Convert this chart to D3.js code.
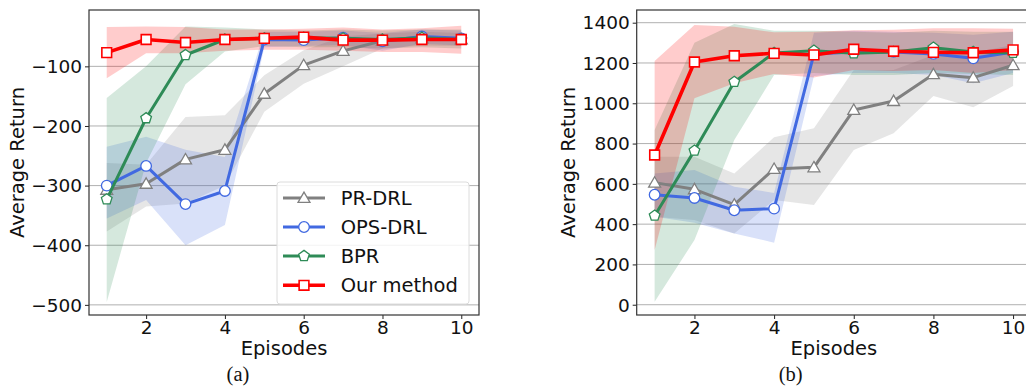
<!DOCTYPE html>
<html>
<head>
<meta charset="utf-8">
<script src="https://cdn.jsdelivr.net/npm/d3@7"></script>
<style>
  html, body { margin: 0; padding: 0; background: #fff; }
  svg { display: block; font-family: "DejaVu Sans", sans-serif; }
</style>
</head>
<body>
<svg id="chart" width="1026" height="388"></svg>
<script>
// ---------- data ----------
const episodes = [1, 2, 3, 4, 5, 6, 7, 8, 9, 10];
const seriesNames = ["PR-DRL", "OPS-DRL", "BPR", "Our method"];
const xTicks = [2, 4, 6, 8, 10];

// panel (a)
const aTicks = [-100, -200, -300, -400, -500];
const aPR    = [-307, -297, -256, -240, -146, -98, -74, -57, -53, -55];
const aPRHi  = [-262, -265, -185, -182, -115, -73, -50, -45, -42, -44];
const aPRLo  = [-377, -335, -330, -300, -176, -129, -100, -70, -65, -66];
const aOPS   = [-300, -267, -331, -309, -55, -56, -52, -58, -50, -53];
const aOPSHi = [-235, -218, -240, -252, -42, -42, -40, -44, -38, -40];
const aOPSLo = [-355, -324, -400, -366, -68, -66, -64, -74, -62, -65];
const aBPR   = [-323, -187, -81, -55, -53, -52, -53, -55, -52, -55];
const aBPRHi = [-153, -100, -33, -35, -38, -40, -38, -40, -38, -38];
const aBPRLo = [-495, -262, -130, -75, -66, -68, -68, -70, -68, -70];
const aOur   = [-77, -55, -60, -55, -53, -51, -56, -56, -55, -55];
const aOurHi = [-34, -33, -34, -38, -38, -37, -35, -38, -36, -32];
const aOurLo = [-120, -78, -78, -74, -72, -72, -74, -76, -76, -79];

// panel (b)
const bTicks = [0, 200, 400, 600, 800, 1000, 1200, 1400];
const bPR    = [606, 573, 497, 674, 682, 967, 1011, 1144, 1127, 1189];
const bPRHi  = [735, 735, 652, 831, 876, 1165, 1165, 1240, 1250, 1290];
const bPRLo  = [437, 420, 353, 520, 495, 768, 851, 1036, 980, 1086];
const bOPS   = [546, 530, 469, 477, 1245, 1255, 1255, 1245, 1223, 1255];
const bOPSHi = [652, 669, 586, 555, 1350, 1360, 1355, 1350, 1340, 1355];
const bOPSLo = [437, 407, 354, 308, 1135, 1150, 1150, 1140, 1100, 1150];
const bBPR   = [442, 765, 1106, 1250, 1261, 1248, 1255, 1276, 1255, 1250];
const bBPRHi = [867, 1300, 1394, 1360, 1360, 1355, 1350, 1360, 1355, 1355];
const bBPRLo = [15, 321, 818, 1140, 1150, 1140, 1140, 1150, 1145, 1140];
const bOur   = [743, 1205, 1236, 1248, 1240, 1268, 1258, 1253, 1251, 1265];
const bOurHi = [1210, 1389, 1380, 1352, 1355, 1362, 1365, 1372, 1372, 1370];
const bOurLo = [272, 1025, 1100, 1145, 1128, 1165, 1160, 1165, 1150, 1165];

// ---------- styles ----------
const colors = ["#808080", "#4169e1", "#2e8b57", "#ff0000"];
const lineWidths = [3, 3, 3, 3.6];

const svg = d3.select("#chart");

function pentagonPath(r) {
  const pts = d3.range(5).map(i => {
    const a = -Math.PI / 2 + i * 2 * Math.PI / 5;
    return [r * Math.cos(a), r * Math.sin(a)];
  });
  return "M" + pts.map(p => p.join(",")).join("L") + "Z";
}

function drawMarker(g, k, cx, cy) {
  let path;
  if (k === 0) path = d3.symbol(d3.symbolTriangle, 62)();
  else if (k === 1) path = d3.symbol(d3.symbolCircle, 88)();
  else if (k === 2) path = pentagonPath(5.6);
  else path = d3.symbol(d3.symbolSquare, 95)();
  g.append("path")
    .attr("d", path)
    .attr("transform", `translate(${cx},${cy + (k === 0 ? 1 : 0)})`)
    .attr("fill", "#fff")
    .attr("stroke", colors[k])
    .attr("stroke-width", k === 3 ? 1.6 : 1.3);
}

function drawPanel(opt) {
  const { left, right, top, bottom, yDomain, yTicks, series, labelX, caption, captionX, tickFmt } = opt;
  const x = d3.scaleLinear().domain([0.55, 10.45]).range([left, right]);
  const y = d3.scaleLinear().domain(yDomain).range([bottom, top]);
  const clipId = "clip" + caption.replace(/\W/g, "");
  svg.append("clipPath").attr("id", clipId)
    .append("rect").attr("x", left).attr("y", top).attr("width", right - left).attr("height", bottom - top);

  const g = svg.append("g");
  // grid
  g.append("g").selectAll("line").data(yTicks).join("line")
    .attr("x1", left).attr("x2", right)
    .attr("y1", d => y(d)).attr("y2", d => y(d))
    .attr("stroke", "#b0b0b0").attr("stroke-width", 1);

  const plot = g.append("g").attr("clip-path", `url(#${clipId})`);
  // bands
  series.forEach((s, k) => {
    const area = d3.area().x((d, i) => x(episodes[i])).y0((d, i) => y(s.lo[i])).y1((d, i) => y(s.hi[i]));
    plot.append("path").datum(s.mean).attr("d", area)
      .attr("fill", colors[k]).attr("fill-opacity", 0.2).attr("stroke", "none");
  });
  // lines + markers
  series.forEach((s, k) => {
    const line = d3.line().x((d, i) => x(episodes[i])).y(d => y(d));
    plot.append("path").datum(s.mean).attr("d", line)
      .attr("fill", "none").attr("stroke", colors[k]).attr("stroke-width", lineWidths[k])
      .attr("stroke-linejoin", "round");
    s.mean.forEach((v, i) => drawMarker(plot, k, x(episodes[i]), y(v)));
  });

  // axes
  const yAxis = d3.axisLeft(y).tickValues(yTicks).tickSize(4).tickPadding(3).tickFormat(tickFmt);
  const gy = g.append("g").attr("transform", `translate(${left},0)`).call(yAxis);
  gy.select(".domain").remove();
  gy.selectAll("line").attr("stroke", "#222").attr("stroke-width", 1);
  gy.selectAll("text").attr("font-size", 18.5).attr("fill", "#111")
    .attr("font-family", "DejaVu Sans, sans-serif").attr("dy", "0.34em");

  const xAxis = d3.axisBottom(x).tickValues(xTicks).tickSize(4).tickPadding(2).tickFormat(d3.format("d"));
  const gx = g.append("g").attr("transform", `translate(0,${bottom})`).call(xAxis);
  gx.select(".domain").remove();
  gx.selectAll("line").attr("stroke", "#222").attr("stroke-width", 1);
  gx.selectAll("text").attr("font-size", 18.5).attr("fill", "#111")
    .attr("font-family", "DejaVu Sans, sans-serif");

  // frame
  g.append("rect").attr("x", left).attr("y", top).attr("width", right - left).attr("height", bottom - top)
    .attr("fill", "none").attr("stroke", "#333").attr("stroke-width", 1.2);

  // labels
  g.append("text").attr("x", (left + right) / 2).attr("y", 355)
    .attr("text-anchor", "middle").attr("font-size", 19.5).attr("fill", "#111").text("Episodes");
  g.append("text")
    .attr("transform", `translate(${labelX},${(top + bottom) / 2}) rotate(-90)`)
    .attr("text-anchor", "middle").attr("dy", "0.35em").attr("font-size", 19.5).attr("fill", "#111")
    .text("Average Return");
  g.append("text").attr("x", captionX).attr("y", 381).attr("text-anchor", "middle")
    .attr("font-family", "Liberation Serif, Times New Roman, serif").attr("font-size", 20.5).attr("fill", "#111")
    .text(caption);
  return g;
}

const minusFmt = d => (d < 0 ? "\u2212" + Math.abs(d) : String(d));

const gA = drawPanel({
  left: 89, right: 479, top: 10, bottom: 315,
  yDomain: [-517, -5.5], yTicks: aTicks, labelX: 17,
  caption: "(a)", captionX: 238, tickFmt: minusFmt,
  series: [
    { mean: aPR, hi: aPRHi, lo: aPRLo },
    { mean: aOPS, hi: aOPSHi, lo: aOPSLo },
    { mean: aBPR, hi: aBPRHi, lo: aBPRLo },
    { mean: aOur, hi: aOurHi, lo: aOurLo }
  ]
});

drawPanel({
  left: 636.7, right: 1031, top: 10, bottom: 315,
  yDomain: [-51, 1463], yTicks: bTicks, labelX: 568,
  caption: "(b)", captionX: 790.7, tickFmt: d3.format("d"),
  series: [
    { mean: bPR, hi: bPRHi, lo: bPRLo },
    { mean: bOPS, hi: bOPSHi, lo: bOPSLo },
    { mean: bBPR, hi: bBPRHi, lo: bBPRLo },
    { mean: bOur, hi: bOurHi, lo: bOurLo }
  ]
});

// legend in panel (a)
const leg = gA.append("g");
leg.append("rect").attr("x", 277).attr("y", 182).attr("width", 192).attr("height", 122)
  .attr("rx", 3).attr("fill", "#fff").attr("fill-opacity", 0.85)
  .attr("stroke", "#dcdcdc").attr("stroke-width", 1);
const legY = [198, 227, 256, 285.3];
seriesNames.forEach((name, k) => {
  leg.append("line").attr("x1", 283).attr("x2", 325).attr("y1", legY[k]).attr("y2", legY[k])
    .attr("stroke", colors[k]).attr("stroke-width", lineWidths[k]);
  drawMarker(leg, k, 304, legY[k]);
  leg.append("text").attr("x", 340.7).attr("y", legY[k]).attr("dy", "0.36em")
    .attr("font-size", 19.5).attr("fill", "#111").text(name);
});
</script>
</body>
</html>
